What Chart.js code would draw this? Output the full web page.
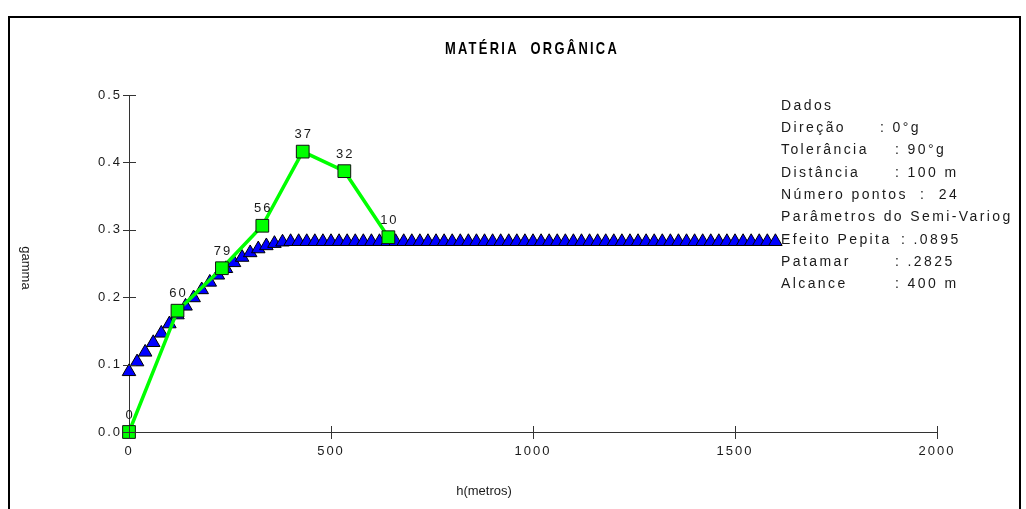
<!DOCTYPE html>
<html>
<head>
<meta charset="utf-8">
<script src="https://cdn.jsdelivr.net/npm/chart.js@4.4.1/dist/chart.umd.min.js"></script>
<style>
  html, body { margin: 0; padding: 0; background: #fff; }
  #wrap { width: 1026px; height: 509px; position: relative; }
</style>
</head>
<body>
<div id="wrap"><canvas id="c" width="1026" height="509"></canvas></div>
<script>
// ---------- data ----------
const chartTitle = 'MATÉRIA  ORGÂNICA';
const xTitle = 'h(metros)';
const yTitle = 'gamma';

// model (spherical semivariogram) points
const modelH = [0,20,40,60,80,100,120,140,160,180,200,220,240,260,280,300,320,340,360,380,
  400,420,440,460,480,500,520,540,560,580,600,620,640,660,680,700,720,740,760,780,
  800,820,840,860,880,900,920,940,960,980,1000,1020,1040,1060,1080,1100,1120,1140,1160,1180,
  1200,1220,1240,1260,1280,1300,1320,1340,1360,1380,1400,1420,1440,1460,1480,1500,1520,1540,1560,1580,
  1600];
const modelGamma = [0.0895,0.1040,0.1184,0.1326,0.1466,0.1604,0.1737,0.1867,0.1991,0.2110,
  0.2222,0.2327,0.2424,0.2512,0.2591,0.2659,0.2717,0.2763,0.2797,0.2818,
  0.2825,0.2825,0.2825,0.2825,0.2825,0.2825,0.2825,0.2825,0.2825,0.2825,
  0.2825,0.2825,0.2825,0.2825,0.2825,0.2825,0.2825,0.2825,0.2825,0.2825,
  0.2825,0.2825,0.2825,0.2825,0.2825,0.2825,0.2825,0.2825,0.2825,0.2825,
  0.2825,0.2825,0.2825,0.2825,0.2825,0.2825,0.2825,0.2825,0.2825,0.2825,
  0.2825,0.2825,0.2825,0.2825,0.2825,0.2825,0.2825,0.2825,0.2825,0.2825,
  0.2825,0.2825,0.2825,0.2825,0.2825,0.2825,0.2825,0.2825,0.2825,0.2825,
  0.2825];

// experimental semivariogram
const expH = [0, 120, 230, 330, 430, 533, 642];
const expGamma = [0, 0.180, 0.243, 0.306, 0.416, 0.387, 0.289];
const expPairs = ['0', '60', '79', '56', '37', '32', '10'];

// axis ticks
const xTicks = [0, 500, 1000, 1500, 2000];
const yTicks = [0.0, 0.1, 0.2, 0.3, 0.4, 0.5];

// info block
const infoLabels = ['Dados', 'Direção', 'Tolerância', 'Distância', 'Número pontos',
  'Parâmetros do Semi-Variog', 'Efeito Pepita', 'Patamar', 'Alcance'];
const infoValues = ['', ': 0°g', ': 90°g', ': 100 m', ':  24', '', ': .0895', ': .2825', ': 400 m'];
const infoValueX = [0, 880, 895, 895, 920, 0, 901, 895, 895];

// ---------- chart ----------
const FONT = "'Liberation Sans', Arial, sans-serif";
const TXT = '#1a1a1a';

const decor = {
  id: 'decor',
  beforeUpdate(chart) { chart.ctx.letterSpacing = '2px'; },
  beforeDraw(chart) {
    const ctx = chart.ctx;
    ctx.save();
    ctx.fillStyle = '#fff';
    ctx.fillRect(0, 0, chart.width, chart.height);
    ctx.restore();
    ctx.letterSpacing = '2px';
  },
  afterDraw(chart) {
    const ctx = chart.ctx;
    const xs = chart.scales.x, ys = chart.scales.y;
    const ca = chart.chartArea;
    ctx.save();
    // tick marks crossing the axes
    ctx.strokeStyle = '#333';
    ctx.lineWidth = 1;
    ctx.beginPath();
    yTicks.forEach(v => {
      const y = Math.round(ys.getPixelForValue(v)) + 0.5;
      ctx.moveTo(ca.left - 6, y); ctx.lineTo(ca.left + 7, y);
    });
    xTicks.forEach(v => {
      const x = Math.round(xs.getPixelForValue(v)) + 0.5;
      ctx.moveTo(x, ca.bottom - 6); ctx.lineTo(x, ca.bottom + 7);
    });
    ctx.stroke();

    // frame
    ctx.strokeStyle = '#000';
    ctx.lineWidth = 2;
    ctx.beginPath();
    ctx.moveTo(9, 520); ctx.lineTo(9, 17); ctx.lineTo(1020, 17); ctx.lineTo(1020, 520);
    ctx.stroke();

    // title
    ctx.save();
    ctx.translate(532, 49);
    ctx.scale(0.76, 1);
    ctx.font = 'bold 17px ' + FONT;
    ctx.letterSpacing = '3px';
    ctx.fillStyle = '#000';
    ctx.textAlign = 'center';
    ctx.textBaseline = 'middle';
    ctx.fillText(chartTitle, 0, 0);
    ctx.restore();

    // axis titles
    ctx.font = '13px ' + FONT;
    ctx.letterSpacing = '0px';
    ctx.fillStyle = TXT;
    ctx.textAlign = 'center';
    ctx.textBaseline = 'middle';
    ctx.fillText(xTitle, 484, 491);
    ctx.save();
    ctx.translate(26, 268);
    ctx.rotate(Math.PI / 2);
    ctx.fillText(yTitle, 0, 0);
    ctx.restore();

    // point labels
    ctx.font = '13px ' + FONT;
    ctx.letterSpacing = '2px';
    const meta = chart.getDatasetMeta(1);
    meta.data.forEach((pt, i) => {
      ctx.fillText(expPairs[i], pt.x + 1, pt.y - 17);
    });

    // info block (clipped by frame)
    ctx.save();
    ctx.beginPath();
    ctx.rect(0, 0, 1019, 509);
    ctx.clip();
    ctx.font = '14px ' + FONT;
    ctx.letterSpacing = '2.4px';
    ctx.textAlign = 'left';
    infoLabels.forEach((lab, i) => {
      const y = 106 + i * 22.3;
      ctx.fillText(lab, 781, y);
      if (infoValues[i]) ctx.fillText(infoValues[i], infoValueX[i], y);
    });
    ctx.restore();
    ctx.restore();
    ctx.letterSpacing = '2px';
  }
};

new Chart(document.getElementById('c'), {
  type: 'scatter',
  data: {
    datasets: [
      {
        label: 'modelo',
        data: modelH.map((h, i) => ({ x: h, y: modelGamma[i] })),
        showLine: false,
        pointStyle: 'triangle',
        pointRadius: 7.8,
        pointBackgroundColor: '#0000ff',
        pointBorderColor: '#000',
        pointBorderWidth: 1,
        clip: false,
        order: 2
      },
      {
        label: 'experimental',
        data: expH.map((h, i) => ({ x: h, y: expGamma[i] })),
        showLine: true,
        borderColor: '#00ff00',
        borderWidth: 3.5,
        pointStyle: 'rect',
        pointRadius: 9,
        pointBackgroundColor: '#00ff00',
        pointBorderColor: '#111',
        pointBorderWidth: 1,
        clip: false,
        order: 1
      }
    ]
  },
  options: {
    responsive: false,
    animation: false,
    events: [],
    layout: { padding: { left: 0, top: 95, right: 89, bottom: 37 } },
    plugins: { legend: { display: false }, tooltip: { enabled: false }, title: { display: false } },
    scales: {
      x: {
        type: 'linear', min: 0, max: 2000,
        afterBuildTicks: s => { s.ticks = xTicks.map(v => ({ value: v })); },
        afterFit: s => { s.height = 40; },
        grid: { display: false, drawTicks: false },
        border: { display: true, color: '#333', width: 1 },
        ticks: { padding: 12, color: TXT, font: { family: FONT, size: 13 }, maxRotation: 0, autoSkip: false,
                 callback: v => String(v) }
      },
      y: {
        type: 'linear', min: 0, max: 0.5,
        afterBuildTicks: s => { s.ticks = yTicks.map(v => ({ value: v })); },
        afterFit: s => { s.width = 129; },
        grid: { display: false, drawTicks: false },
        border: { display: true, color: '#333', width: 1 },
        ticks: { padding: 7, color: TXT, font: { family: FONT, size: 13 },
                 callback: v => Number(v).toFixed(1) }
      }
    }
  },
  plugins: [decor]
});
</script>
</body>
</html>
